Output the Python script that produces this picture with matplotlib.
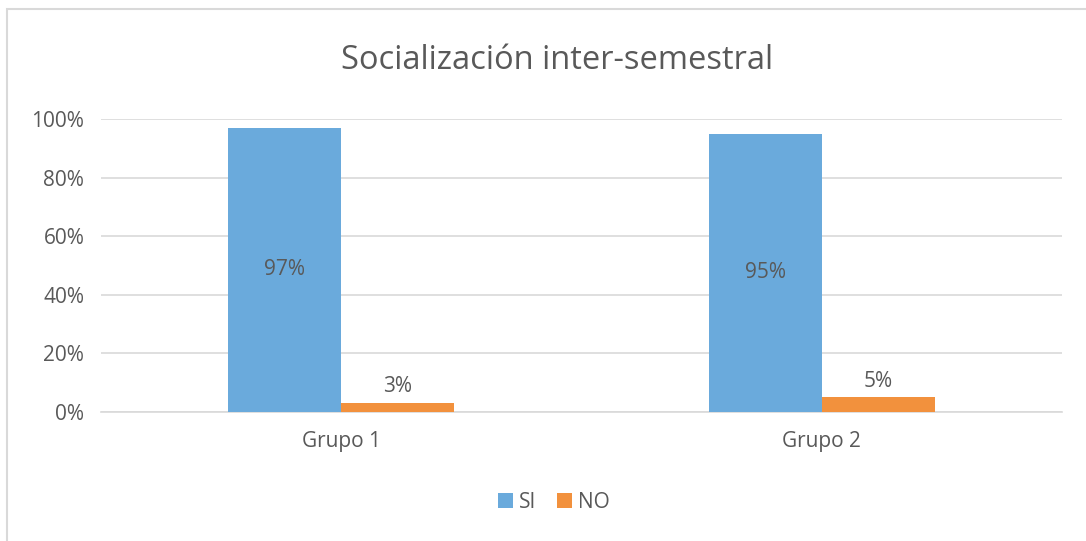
import matplotlib.pyplot as plt
from matplotlib.patches import Rectangle

groups = ["Grupo 1", "Grupo 2"]
si = [97, 95]
no = [3, 5]
series_names = ["SI", "NO"]

plt.rcParams['font.family'] = ['Open Sans', 'DejaVu Sans']
txt = '#595959'
blue = '#6AAADC'
orange = '#F2913D'

fig = plt.figure(figsize=(10.86, 5.41), dpi=100)
ax = fig.add_axes([0.093, 0.2384, 0.885, 0.5416])

x = range(len(groups))
w = 0.235
b1 = ax.bar([i - w / 2 for i in x], si, w, color=blue, label=series_names[0], zorder=3)
b2 = ax.bar([i + w / 2 for i in x], no, w, color=orange, label=series_names[1], zorder=3)

for r, v in zip(b1, si):
    ax.text(r.get_x() + r.get_width() / 2, v / 2, f"{v}%", ha='center', va='center',
            fontsize=15, color=txt, zorder=4)
for r, v in zip(b2, no):
    ax.text(r.get_x() + r.get_width() / 2, v + 2, f"{v}%", ha='center', va='bottom',
            fontsize=15, color=txt, zorder=4)

ax.set_xlim(-0.5, 1.5)
ax.set_ylim(0, 100)
ax.set_yticks(range(0, 101, 20))
ax.set_yticklabels([f"{t}%" for t in range(0, 101, 20)])
ax.set_xticks(list(x))
ax.set_xticklabels(groups)
ax.tick_params(length=0, labelsize=15, colors=txt)
ax.tick_params(axis='x', pad=14)
ax.tick_params(axis='y', pad=12)
ax.grid(axis='y', color='#D9D9D9', linewidth=1.2, zorder=0)
for s in ['top', 'right', 'left']:
    ax.spines[s].set_visible(False)
ax.spines['bottom'].set_color('#D9D9D9')
ax.spines['bottom'].set_linewidth(1.2)

fig.text(0.513, 0.889, "Socialización inter-semestral", ha='center', va='center',
         fontsize=23.5, color=txt)

fig.legend(handles=[b1, b2], labels=series_names, loc='center', bbox_to_anchor=(0.51, 0.072),
           ncol=2, frameon=False, fontsize=15, labelcolor=txt, handlelength=0.7,
           handleheight=0.7, handletextpad=0.3, columnspacing=1.0)

fig.patches.append(Rectangle((7 / 1086, -0.05), 1.1, 1 - 9 / 541 + 0.05, transform=fig.transFigure,
                             fill=False, edgecolor='#D9D9D9', linewidth=1.5))

fig.savefig("out.png", dpi=100, facecolor='white')
